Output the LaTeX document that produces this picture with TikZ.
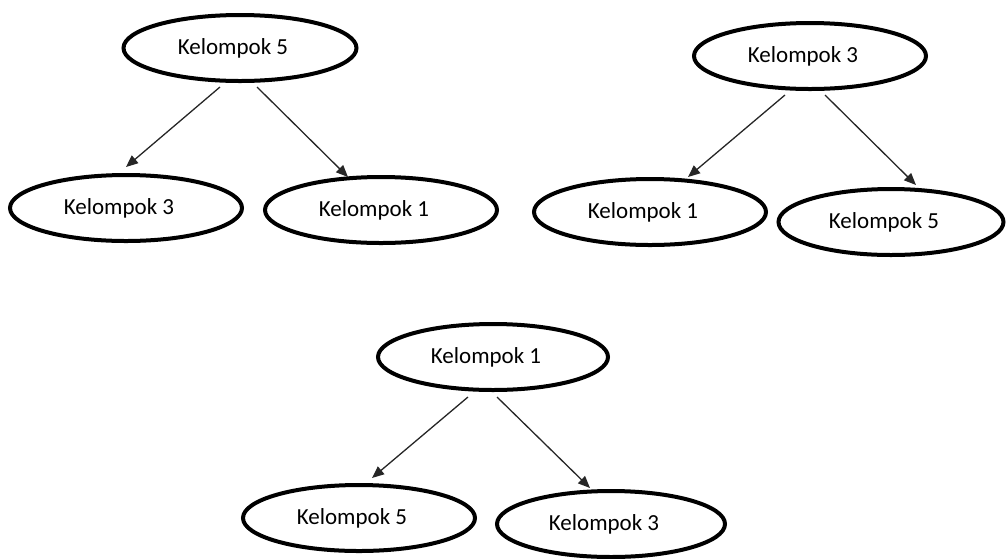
\documentclass[tikz,border=0pt]{standalone}
\usepackage{fontspec}
\setmainfont{Carlito}
\usetikzlibrary{shapes.geometric,arrows.meta,calc}
\tikzset{
  grp/.style={draw=black, line width=4pt, ellipse, minimum width=232pt, minimum height=66pt, inner sep=0pt,
    font=\fontsize{23}{27}\selectfont},
  arr/.style={draw=black!85, line width=1.3pt, -{Triangle[length=12pt,width=10pt]}}
}
\newcommand{\grptext}[1]{#1\kern14pt}
\begin{document}
\begin{tikzpicture}[x=1pt,y=-1pt]
\useasboundingbox (0,0) rectangle (1007,558);
% tree 1
\node[grp, minimum width=233pt] (A1) at (240,48) {\grptext{Kelompok 5}};
\node[grp] (B1) at (126,208) {\grptext{Kelompok 3}};
\node[grp] (C1) at (381,210) {\grptext{Kelompok 1}};
\draw[arr] ($(A1.center)+(-20,39)$) -- ($(B1.center)+(0,-41)$);
\draw[arr] ($(A1.center)+(17,39)$) -- ($(C1.center)+(-33,-33)$);
% tree 2
\node[grp] (A2) at (810,56) {\grptext{Kelompok 3}};
\node[grp] (B2) at (650,212) {\grptext{Kelompok 1}};
\node[grp, minimum width=225pt] (C2) at (891,222) {\grptext{Kelompok 5}};
\draw[arr] ($(A2.center)+(-25,39)$) -- ($(B2.center)+(38,-35)$);
\draw[arr] ($(A2.center)+(15,39)$) -- ($(C2.center)+(25,-37)$);
% tree 3
\node[grp, minimum width=230pt] (A3) at (493,357) {\grptext{Kelompok 1}};
\node[grp] (B3) at (359,518) {\grptext{Kelompok 5}};
\node[grp, minimum width=228pt] (C3) at (611,524) {\grptext{Kelompok 3}};
\draw[arr] ($(A3.center)+(-25,40)$) -- ($(B3.center)+(13,-40)$);
\draw[arr] ($(A3.center)+(4,40)$) -- ($(C3.center)+(-21,-36)$);
\end{tikzpicture}
\end{document}
